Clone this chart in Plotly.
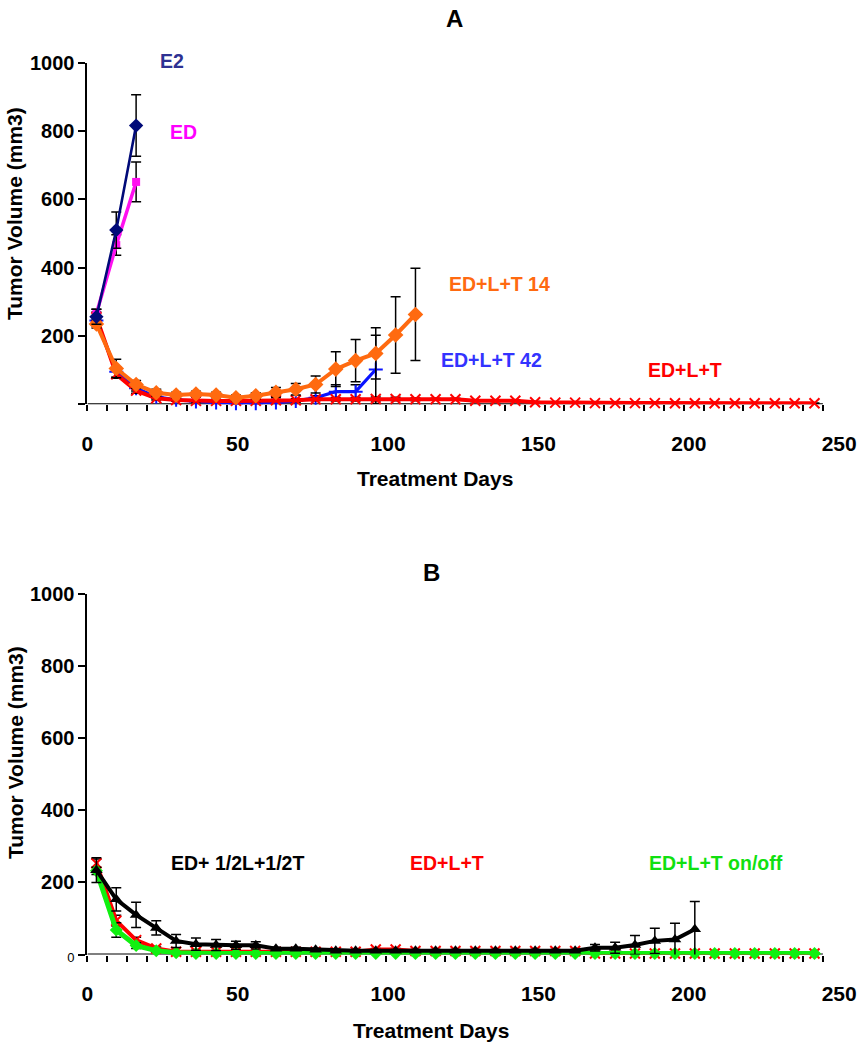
import numpy as np
import plotly.graph_objects as go

# ---------------- data ----------------
# measurement days (read from marker positions against the labelled axis)
days = [3.0, 9.6, 16.2, 22.9, 29.5, 36.1, 42.8, 49.4, 56.0, 62.7, 69.3, 75.9,
        82.6, 89.2, 95.9, 102.5, 109.1, 115.8, 122.4, 129.0, 135.7, 142.3,
        148.9, 155.6, 162.2, 168.8, 175.5, 182.1, 188.7, 195.4, 202.0, 208.6,
        215.3, 221.9, 228.6, 235.2, 241.8]

# Panel A
e2_vol = [256, 510, 816]
e2_err = [22, 53, 90]
ed_vol = [266, 466, 651]
ed_err = [12, 30, 58]
elt14_vol = [235, 105, 58, 34, 27, 30, 27, 19, 25, 35, 44, 58, 103, 128, 149, 203, 263]
elt14_err = [12, 27, 12, 10, 8, 8, 8, 8, 9, 14, 17, 25, 51, 62, 75, 112, 135]
elt42_vol = [245, 95, 47, 22, 13, 8, 5, 3, 3, 5, 10, 19, 37, 37, 102]
elt42_err = [15, 15, 8, 5, 3, 3, 2, 2, 2, 3, 4, 6, 20, 20, 100]
eltA_vol = [255, 88, 40, 17.5, 12.6, 10, 10, 10, 10, 12, 12, 14.6, 14.6, 14.6,
            15.5, 15.5, 14.6, 14.6, 14.6, 10.5, 10.5, 10.5, 6, 5, 5, 3.5, 3.5,
            3.5, 3.5, 3, 3, 3, 3, 3, 3, 3, 3]
eltA_err = [15, 12, 8, 5, 3, 3, 3, 3, 3, 3, 4, 4, 5, 5, 6, 5, 4, 3, 3, 3, 3, 3,
            2, 2, 2, 1, 1, 1, 1, 1, 1, 1, 1, 1, 1, 1, 1]

# Panel B
half_vol = [234, 153, 110, 74, 38, 29, 26.6, 25.7, 25.7, 16.4, 16.4, 13.7, 11,
            11, 11, 11, 11, 11, 11, 11, 11, 11, 11, 11, 11, 19, 19, 26.6, 38,
            42, 70]
half_err = [34, 32, 35, 20, 18, 17, 15, 11, 10, 4, 4, 3, 3, 3, 3, 3, 3, 3, 3,
            3, 3, 3, 3, 3, 3, 9, 15, 26, 35, 45, 77]
eltB_vol = [253, 94, 40, 17, 8, 8, 8, 8, 8, 8, 8, 8, 8, 8, 14, 14, 10, 10, 10,
            10, 10, 10, 10, 10, 10, 3, 3, 3, 3, 3, 3, 3, 3, 3, 3, 3, 3]
eltB_err = [12, 15, 8, 4, 2, 2, 2, 2, 2, 2, 2, 2, 2, 2, 3, 3, 2, 2, 2, 2, 2, 2,
            2, 2, 2, 1, 1, 1, 1, 1, 1, 1, 1, 1, 1, 1, 1]
onoff_vol = [232, 68, 25, 11, 5, 3, 3, 3, 3, 3, 3, 3, 3, 3, 3, 3, 3, 3, 3, 3, 3,
             3, 3, 3, 3, 3, 3, 3, 3, 3, 3, 3, 3, 3, 3, 3, 3]
onoff_err = [10, 20, 8, 3, 2, 1, 1, 1, 1, 1, 1, 1, 1, 1, 1, 1, 1, 1, 1, 1, 1,
             1, 1, 1, 1, 1, 1, 1, 1, 1, 1, 1, 1, 1, 1, 1, 1]

x_ticks = [0, 50, 100, 150, 200, 250]
y_ticks = [0, 200, 400, 600, 800, 1000]
yA_text = ["", "200", "400", "600", "800", "1000"]
yB_text = ["<span style='font-weight:normal;font-size:13px'>0</span>",
           "200", "400", "600", "800", "1000"]

# ---------------- figure ----------------
W, H = 857, 1050
FONT = "Arial, Liberation Sans, sans-serif"
X0_PX, PX_PER_DAY = 87.4, 3.007


def px(x):
    """screen pixel x -> paper fraction"""
    return x / W


def py(y):
    """screen pixel y -> paper fraction"""
    return 1 - y / H


fig = go.Figure()


def add(xs, ys, errs, color, symbol, msize, lw, xa, ya, thin=False):
    if thin:
        marker = dict(symbol=symbol, size=msize, color=color,
                      line=dict(color=color, width=2))
    else:
        marker = dict(symbol=symbol, size=msize, color=color,
                      line=dict(width=0))
    fig.add_trace(go.Scatter(
        x=xs, y=ys, mode="lines+markers", xaxis=xa, yaxis=ya,
        line=dict(color=color, width=lw), marker=marker, cliponaxis=False,
        error_y=dict(type="data", array=errs, visible=True, color="black",
                     thickness=1.5, width=5),
        showlegend=False))


# Panel A traces
add(days[:len(elt42_vol)], elt42_vol, elt42_err, "#0A14FF", "cross-thin", 10, 3.2, "x", "y", thin=True)
add(days[:len(eltA_vol)], eltA_vol, eltA_err, "#FF0000", "x-thin", 10, 4, "x", "y", thin=True)
add(days[:len(elt14_vol)], elt14_vol, elt14_err, "#FF6A10", "diamond", 12, 4, "x", "y")
add(days[:len(ed_vol)], ed_vol, ed_err, "#FF10F0", "square", 8, 3.5, "x", "y")
add(days[:len(e2_vol)], e2_vol, e2_err, "#000A78", "diamond", 11, 2.6, "x", "y")

# Panel B traces
add(days[:len(eltB_vol)], eltB_vol, eltB_err, "#FF0000", "x-thin", 10, 4, "x2", "y2", thin=True)
add(days[:len(onoff_vol)], onoff_vol, onoff_err, "#10F010", "diamond", 10, 5, "x2", "y2")
add(days[:len(half_vol)], half_vol, half_err, "#000000", "triangle-up", 11, 4, "x2", "y2")

x_end = 244.6  # where the drawn axis line stops
minor_ticks = list(np.linspace(0, x_end, 38))

X_MAX = 252
xdom = [px(X0_PX), px(X0_PX + X_MAX * PX_PER_DAY)]

xaxis_common = dict(
    range=[0, X_MAX], domain=xdom, showgrid=False, zeroline=False,
    showline=False, tickmode="array", tickvals=x_ticks, automargin=False,
    ticklabeloverflow="allow",
    ticks="outside", ticklen=20, tickcolor="rgba(0,0,0,0)",
    tickfont=dict(family=FONT, size=21, color="black", weight="bold"),
    minor=dict(tickmode="array", tickvals=minor_ticks, ticks="outside",
               ticklen=6, tickwidth=1.5, tickcolor="black", showgrid=False),
)

yaxis_common = dict(
    range=[0, 1000], showgrid=False, zeroline=False, showline=True,
    linecolor="black", linewidth=2, tickmode="array", tickvals=y_ticks,
    ticks="outside", ticklen=7, tickwidth=2, tickcolor="black",
    automargin=False,
    tickfont=dict(family=FONT, size=20, color="black", weight="bold"),
)

fig.update_layout(
    width=W, height=H, autosize=False,
    margin=dict(l=0, r=0, t=0, b=0, pad=0),
    paper_bgcolor="white", plot_bgcolor="white",
    xaxis=dict(**xaxis_common, anchor="y"),
    yaxis=dict(**yaxis_common, domain=[py(404.3), py(62.7)], anchor="x",
               ticktext=yA_text),
    xaxis2=dict(**xaxis_common, anchor="y2"),
    yaxis2=dict(**yaxis_common, domain=[py(954.6), py(593.6)], anchor="x2",
                ticktext=yB_text),
)

# drawn x axis lines (stop at the last tick)
for xr, yr in (("x", "y"), ("x2", "y2")):
    fig.add_shape(type="line", xref=xr, yref=yr, x0=0, x1=x_end, y0=0, y1=0,
                  line=dict(color="black", width=2), layer="below")


# text
def note(text, x, y, color="black", size=21, angle=0):
    fig.add_annotation(text=text, x=px(x), y=py(y), xref="paper", yref="paper",
                       showarrow=False, textangle=angle,
                       font=dict(family=FONT, size=size, color=color,
                                 weight="bold"),
                       xanchor="center", yanchor="middle")


note("A", 455, 19, size=24)
note("B", 431, 572, size=24)
note("Tumor Volume (mm3)", 15, 214, angle=-90)
note("Tumor Volume (mm3)", 15, 753, angle=-90)
note("Treatment Days", 435, 478)
note("Treatment Days", 431, 1030)

note("E2", 172, 61, color="#2E3192", size=19.5)
note("ED", 183, 132, color="#FF00FF", size=19.5)
note("ED+L+T 14", 499, 284, color="#FF6A10", size=19.5)
note("ED+L+T 42", 491, 360, color="#3333FF", size=19.5)
note("ED+L+T", 685, 370, color="#FF0000", size=19.5)

note("ED+ 1/2L+1/2T", 237, 863, color="black", size=19.5)
note("ED+L+T", 447, 863, color="#FF0000", size=19.5)
note("ED+L+T on/off", 716, 863, color="#10E010", size=19.5)

# remove the browser's default page margin so the figure sits at (0, 0)
fig.write_html("out.html",
               config={"displayModeBar": False},
               post_script="document.body.style.margin='0';"
                           "document.body.style.overflow='hidden';")
